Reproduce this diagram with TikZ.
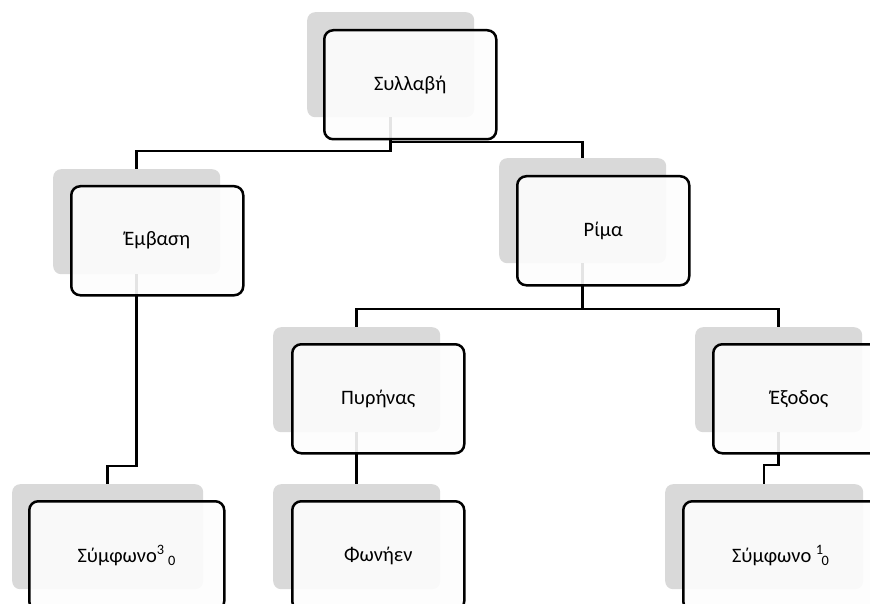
\documentclass[tikz,border=0pt]{standalone}
\usepackage{fontspec}
\setmainfont{Carlito}
\definecolor{shade}{HTML}{D9D9D9}
\definecolor{paper}{HTML}{FDFDFD}

\begin{document}
\begin{tikzpicture}[x=1pt,y=-1pt,
	ShadeStyle/.style={fill=shade, rounded corners=8pt, anchor=north west, inner sep=0pt,
		minimum width=167pt, minimum height=105pt},
	BoxStyle/.style={draw, line width=2.5pt, fill=paper, fill opacity=0.9, text opacity=1,
		rounded corners=9pt, anchor=north west, inner sep=0pt,
		minimum width=172pt, minimum height=109pt, font=\fontsize{20.5}{24}\selectfont},
	EdgeStyle/.style={line width=2.5pt}]
	\useasboundingbox (0,0) rectangle (870,604);
	\clip (0,0) rectangle (870,604);
	% shadows
	\node[ShadeStyle] (syl-s) at (307,12) {};
	\node[ShadeStyle] (emv-s) at (53,169) {};
	\node[ShadeStyle] (rim-s) at (499,158) {};
	\node[ShadeStyle] (pyr-s) at (273,327) {};
	\node[ShadeStyle] (exo-s) at (695,327) {};
	\node[ShadeStyle, minimum width=191pt] (sym1-s) at (12,484) {};
	\node[ShadeStyle] (fon-s) at (273,484) {};
	\node[ShadeStyle, minimum width=198pt] (sym2-s) at (665,484) {};
	% connectors
	\draw[EdgeStyle] (syl-s.south) -- (syl-s.south |- 0,151) -| (emv-s.north);
	\draw[EdgeStyle] (syl-s.south) -- (syl-s.south |- 0,142) -| (rim-s.north);
	\draw[EdgeStyle] (emv-s.south) -- (emv-s.south |- 0,466) -| (sym1-s.north);
	\draw[EdgeStyle] (rim-s.south) -- (rim-s.south |- 0,309) -| (pyr-s.north);
	\draw[EdgeStyle] (rim-s.south) -- (rim-s.south |- 0,309) -| (exo-s.north);
	\draw[EdgeStyle] (pyr-s.south) -- (fon-s.north);
	\draw[EdgeStyle] (exo-s.south) -- (exo-s.south |- 0,465) -| (sym2-s.north);
	% boxes
	\node[BoxStyle] (syl) at (323,29) {Συλλαβή};
	\node[BoxStyle] (emv) at (70,185) {Έμβαση};
	\node[BoxStyle] (rim) at (516,175) {Ρίμα};
	\node[BoxStyle] (pyr) at (291,343) {Πυρήνας};
	\node[BoxStyle] (exo) at (712,343) {Έξοδος};
	\node[BoxStyle, minimum width=195pt] (sym1) at (28,500) {Σύμφωνο\textsuperscript{3}\,\textsubscript{0}};
	\node[BoxStyle] (fon) at (291,500) {Φωνήεν};
	\node[BoxStyle, minimum width=195pt] (sym2) at (682,500) {Σύμφωνο \textsuperscript{1}\kern-0.1em\textsubscript{0}};
\end{tikzpicture}
\end{document}
